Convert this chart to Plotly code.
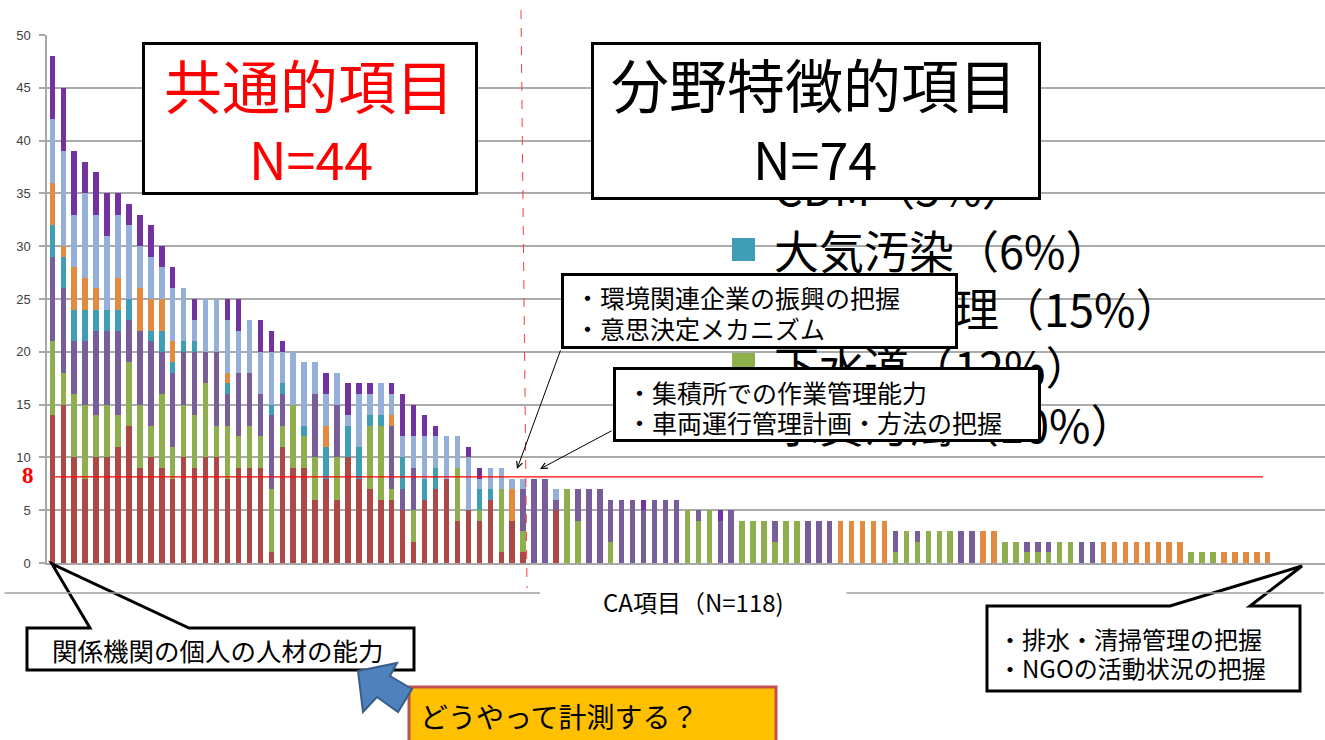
import plotly.graph_objects as go

# ---------------- data (bars 1..112, stacked bottom -> top) ----------------
ca_items = list(range(1, 113))

red = [14, 15, 10, 8, 10, 10, 11, 13, 9, 10, 9, 8, 10, 9, 10, 10, 8, 9, 9, 9, 1, 11,
       9, 9, 6, 8, 6, 10, 8, 7, 6, 6, 5, 2, 6, 7, 8, 4, 5, 4, 6, 1, 4, 1,
       0, 0, 5, 0, 0, 0, 0, 0, 0, 0,
       0, 0, 0, 0, 0, 0, 0, 0, 0, 0,
       0, 0, 0, 0, 0, 0, 0, 0, 0, 0,
       0, 0, 0, 0, 0, 0, 0, 0, 0, 0,
       0, 0, 0, 0, 0, 0, 0, 0, 0, 0,
       0, 0, 0, 0, 0, 0, 0, 0, 0, 0,
       0, 0, 0, 0, 0, 0, 0, 0]
green = [7, 3, 6, 7, 4, 5, 3, 6, 6, 3, 7, 3, 5, 5, 7, 3, 5, 3, 4, 3, 6, 2,
         6, 3, 4, 0, 4, 0, 0, 6, 7, 1, 0, 3, 0, 0, 0, 5, 0, 1, 0, 6, 0, 2,
         0, 0, 0, 7, 4, 0, 0, 2, 0, 0,
         0, 0, 0, 0, 5, 4, 5, 0, 0, 4,
         4, 4, 2, 4, 4, 0, 0, 0, 0, 0,
         0, 0, 0, 1, 3, 2, 3, 3, 3, 0,
         0, 0, 0, 2, 2, 1, 1, 1, 2, 2,
         0, 0, 0, 0, 0, 0, 0, 0, 0, 0,
         1, 1, 1, 0, 0, 0, 0, 0]
purple = [8, 8, 5, 6, 8, 7, 8, 4, 7, 8, 4, 7, 5, 6, 3, 7, 3, 6, 5, 4, 7, 3,
          0, 0, 6, 0, 5, 0, 0, 0, 0, 6, 2, 4, 0, 0, 0, 0, 0, 0, 0, 0, 0, 4,
          8, 8, 1, 0, 3, 7, 7, 4, 6, 6,
          5, 6, 6, 6, 0, 1, 0, 4, 5, 0,
          0, 0, 2, 0, 0, 4, 4, 4, 0, 0,
          0, 0, 0, 2, 0, 1, 0, 0, 0, 3,
          3, 0, 0, 0, 0, 1, 1, 1, 0, 0,
          2, 2, 0, 0, 0, 0, 0, 0, 0, 0,
          0, 0, 0, 0, 0, 0, 0, 0]
teal = [3, 3, 3, 3, 2, 2, 2, 2, 0, 1, 2, 1, 1, 1, 0, 0, 1, 0, 0, 0, 1, 1,
        0, 1, 0, 3, 0, 3, 3, 1, 1, 0, 3, 0, 2, 2, 0, 0, 0, 2, 1, 0, 0, 0,
        0, 0, 0, 0, 0, 0, 0, 0, 0, 0,
        0, 0, 0, 0, 0, 0, 0, 0, 0, 0,
        0, 0, 0, 0, 0, 0, 0, 0, 0, 0,
        0, 0, 0, 0, 0, 0, 0, 0, 0, 0,
        0, 0, 0, 0, 0, 0, 0, 0, 0, 0,
        0, 0, 0, 0, 0, 0, 0, 0, 0, 0,
        0, 0, 0, 0, 0, 0, 0, 0]
orange = [4, 1, 4, 3, 2, 0, 3, 0, 4, 3, 3, 2, 0, 0, 0, 0, 1, 0, 0, 0, 0, 0,
          0, 0, 0, 2, 0, 0, 0, 0, 0, 1, 0, 0, 0, 0, 0, 0, 0, 0, 0, 0, 3, 0,
          0, 0, 0, 0, 0, 0, 0, 0, 0, 0,
          0, 0, 0, 0, 0, 0, 0, 0, 0, 0,
          0, 0, 0, 0, 0, 0, 0, 0, 4, 4,
          4, 4, 4, 0, 0, 0, 0, 0, 0, 0,
          0, 3, 3, 0, 0, 0, 0, 0, 0, 0,
          0, 0, 2, 2, 2, 2, 2, 2, 2, 2,
          0, 0, 0, 1, 1, 1, 1, 1]
lightblue = [6, 9, 5, 8, 7, 7, 6, 7, 4, 4, 3, 5, 5, 2, 5, 5, 5, 4, 5, 4, 5, 3,
             5, 6, 3, 3, 3, 1, 5, 2, 3, 2, 2, 3, 4, 3, 4, 3, 5, 1, 2, 2, 1, 1,
             0, 0, 1, 0, 0, 0, 0, 0, 0, 0,
             0, 0, 0, 0, 0, 0, 0, 0, 0, 0,
             0, 0, 0, 0, 0, 0, 0, 0, 0, 0,
             0, 0, 0, 0, 0, 0, 0, 0, 0, 0,
             0, 0, 0, 0, 0, 0, 0, 0, 0, 0,
             0, 0, 0, 0, 0, 0, 0, 0, 0, 0,
             0, 0, 0, 0, 0, 0, 0, 0]
darkpurple = [6, 6, 6, 3, 4, 4, 2, 2, 3, 3, 2, 2, 0, 2, 0, 0, 2, 3, 0, 3, 2, 1,
              0, 0, 0, 2, 0, 3, 1, 1, 0, 1, 4, 3, 2, 1, 0, 0, 1, 1, 0, 0, 0, 0,
              0, 0, 0, 0, 0, 0, 0, 0, 0, 0,
              1, 0, 0, 0, 0, 0, 0, 1, 0, 0,
              0, 0, 0, 0, 0, 0, 0, 0, 0, 0,
              0, 0, 0, 0, 0, 0, 0, 0, 0, 0,
              0, 0, 0, 0, 0, 0, 0, 0, 0, 0,
              0, 0, 0, 0, 0, 0, 0, 0, 0, 0,
              0, 0, 0, 0, 0, 0, 0, 0]

series_names = ["red", "green", "purple", "teal", "orange", "lightblue", "darkpurple"]
series_values = [red, green, purple, teal, orange, lightblue, darkpurple]
series_colors = ["#AC4845", "#8FAE4E", "#775D99", "#3F9EB6", "#E38A41", "#95B0D8", "#7232A0"]

threshold = 8.15
y_ticks = [0, 5, 10, 15, 20, 25, 30, 35, 40, 45, 50]

legend_labels = ["CDM（5%）", "大気汚染（6%）", "廃棄物管理（15%）", "下水道（12%）", "水質汚濁（10%）"]

FONT = "Noto Sans CJK JP"
W, H = 1325, 740
L, R, T, B = 47, 0, 35, 177
PW, PH = W - L - R, H - T - B


def fx(px):
    return (px - L) / PW


def fy(py):
    return (H - B - py) / PH


def pt(px, py):
    return f"{fx(px):.5f},{fy(py):.5f}"


fig = go.Figure()
for name, vals, col in zip(series_names, series_values, series_colors):
    fig.add_trace(go.Bar(x=ca_items, y=vals, name=name, marker=dict(color=col, line=dict(width=0)),
                         hoverinfo="skip"))

shapes = []
# white legend background (hides gridlines)
shapes.append(dict(type="rect", xref="paper", yref="paper", x0=fx(711), x1=fx(1299), y0=fy(455), y1=fy(30),
                   fillcolor="white", line=dict(width=0), layer="between"))
shapes.append(dict(type="rect", xref="paper", yref="paper", x0=fx(1298), x1=fx(1310), y0=fy(455), y1=fy(40),
                   fillcolor="white", line=dict(width=0), layer="between"))
shapes.append(dict(type="rect", xref="paper", yref="paper", x0=fx(758), x1=fx(1310), y0=fy(461), y1=fy(450),
                   fillcolor="white", line=dict(width=0), layer="between"))
# legend squares
shapes.append(dict(type="rect", xref="paper", yref="paper", x0=fx(732), x1=fx(755), y0=fy(261), y1=fy(238),
                   fillcolor="#3F9EB6", line=dict(width=0), layer="above"))
shapes.append(dict(type="rect", xref="paper", yref="paper", x0=fx(732), x1=fx(755), y0=fy(376), y1=fy(353),
                   fillcolor="#8FAE4E", line=dict(width=0), layer="above"))
# threshold line
shapes.append(dict(type="line", xref="paper", yref="y", x0=fx(55), x1=fx(1263), y0=threshold, y1=threshold,
                   line=dict(color="#FF0000", width=1.3), layer="above"))
# dashed divider
shapes.append(dict(type="line", xref="paper", yref="paper", x0=fx(521), x1=fx(527), y0=fy(10), y1=fy(588),
                   line=dict(color="#FF3B3B", width=1, dash="dash"), layer="above"))
# callout bottom-left
shapes.append(dict(type="path", xref="paper", yref="paper",
                   path="M " + " L ".join([pt(27, 628), pt(90, 628), pt(52, 564), pt(189, 628), pt(414, 628),
                                           pt(414, 670), pt(27, 670)]) + " Z",
                   fillcolor="white", line=dict(color="black", width=3), layer="above"))
# callout bottom-right
shapes.append(dict(type="path", xref="paper", yref="paper",
                   path="M " + " L ".join([pt(987, 606), pt(1170, 606), pt(1302, 566), pt(1250, 606), pt(1300, 606),
                                           pt(1300, 691), pt(987, 691)]) + " Z",
                   fillcolor="white", line=dict(color="black", width=3), layer="above"))
# orange box
shapes.append(dict(type="rect", xref="paper", yref="paper", x0=fx(409), x1=fx(776), y0=fy(746), y1=fy(687),
                   fillcolor="#FFC000", line=dict(color="#C0504D", width=3), layer="above"))
# blue block arrow
shapes.append(dict(type="path", xref="paper", yref="paper",
                   path="M " + " L ".join([pt(358, 671), pt(397, 663), pt(390, 676), pt(412, 689), pt(398, 712),
                                           pt(377, 697), pt(363, 712)]) + " Z",
                   fillcolor="#4F81BD", line=dict(color="#385D8A", width=2), layer="above"))

ann = []
# chart frame bottom line, drawn with arrowless annotation lines (gap for the axis title)
for xa, xb in [(3, 540), (845, 1324)]:
    ann.append(dict(text="", xref="paper", yref="paper", x=fx(xb), y=fy(593), ax=-(xb - xa), ay=0,
                    showarrow=True, arrowhead=0, arrowwidth=1.6, arrowcolor="#A0A0A0",
                    standoff=0, startstandoff=0))
# legend text, partly hidden behind the boxes
legend_y = [187, 249, 307, 365, 423]
for lab, yy in zip(legend_labels, legend_y):
    ann.append(dict(text=lab, xref="paper", yref="paper", x=fx(772), y=fy(yy), xanchor="left", yanchor="middle",
                    showarrow=False, font=dict(family=FONT, size=45, color="black")))


def box(x0, y0, x1, y1, bw=3, color="black"):
    return dict(text=" ", xref="paper", yref="paper", x=fx(x0), y=fy(y0), xanchor="left", yanchor="top",
                width=x1 - x0 - 2 * bw, height=y1 - y0 - 2 * bw, borderwidth=bw, borderpad=0, bordercolor=color,
                bgcolor="white", showarrow=False, font=dict(size=10))


def txt(s, px, py, size, color="black", xanchor="left", family=FONT):
    return dict(text=s, xref="paper", yref="paper", x=fx(px), y=fy(py), xanchor=xanchor, yanchor="middle",
                showarrow=False, font=dict(family=family, size=size, color=color))


ann.append(box(142, 42, 478, 195))
ann.append(txt("共通的項目", 309, 84, 58, "#FF0000", "center"))
ann.append(txt("N=44", 311, 157, 52, "#FF0000", "center"))
ann.append(box(591, 42, 1041, 200))
ann.append(txt("分野特徴的項目", 814, 83, 58, "black", "center"))
ann.append(txt("N=74", 815, 157, 52, "black", "center"))
ann.append(box(561, 273, 958, 349))
ann.append(txt("・環境関連企業の振興の把握", 573, 297, 25))
ann.append(txt("・意思決定メカニズム", 573, 328, 25))
ann.append(box(613, 367, 1041, 442))
ann.append(txt("・集積所での作業管理能力", 625, 392, 25))
ann.append(txt("・車両運行管理計画・方法の把握", 625, 422, 25))
ann.append(txt("関係機関の個人の人材の能力", 50, 649, 25.5))
ann.append(txt("・排水・清掃管理の把握", 996, 638, 24))
ann.append(txt("・NGOの活動状況の把握", 996, 668, 24))
ann.append(txt("どうやって計測する？", 418, 716, 28))
ann.append(txt("CA項目（N=118)", 693, 601, 24, "black", "center"))
ann.append(txt("<b>8</b>", 28, 475, 23, "#FF0000", "center", "Liberation Serif"))

# pointer arrows from the two upper text boxes
arrows = [
    ((517, 469), (561, 349)),
    ((540, 469), (613, 430)),
]
for (tx, ty), (sx, sy) in arrows:
    ann.append(dict(text="", xref="paper", yref="paper", x=fx(tx), y=fy(ty),
                    showarrow=True, arrowhead=5, arrowsize=1.2, arrowwidth=1, arrowcolor="black",
                    ax=(sx - tx), ay=(sy - ty)))

fig.update_layout(
    width=W, height=H,
    margin=dict(l=L, r=R, t=T, b=B, pad=0),
    paper_bgcolor="white", plot_bgcolor="white",
    barmode="stack", bargap=0.5, showlegend=False,
    font=dict(family=FONT),
    shapes=shapes, annotations=ann,
    xaxis=dict(range=[0.516, 117.23], showticklabels=False, showgrid=False, zeroline=False,
               showline=True, linecolor="#A8A8A8", linewidth=1.5, ticks=""),
    yaxis=dict(range=[0, 50], tickvals=y_ticks, showgrid=True, gridcolor="#ABABAB", gridwidth=1.5,
               zeroline=False, showline=True, linecolor="#A8A8A8", linewidth=1.5,
               ticks="outside", ticklen=6, tickcolor="#A8A8A8", tickwidth=1.5,
               tickfont=dict(family="Liberation Sans", size=13, color="#404040"), ticklabelstandoff=6),
)

fig.write_html("out.html")
